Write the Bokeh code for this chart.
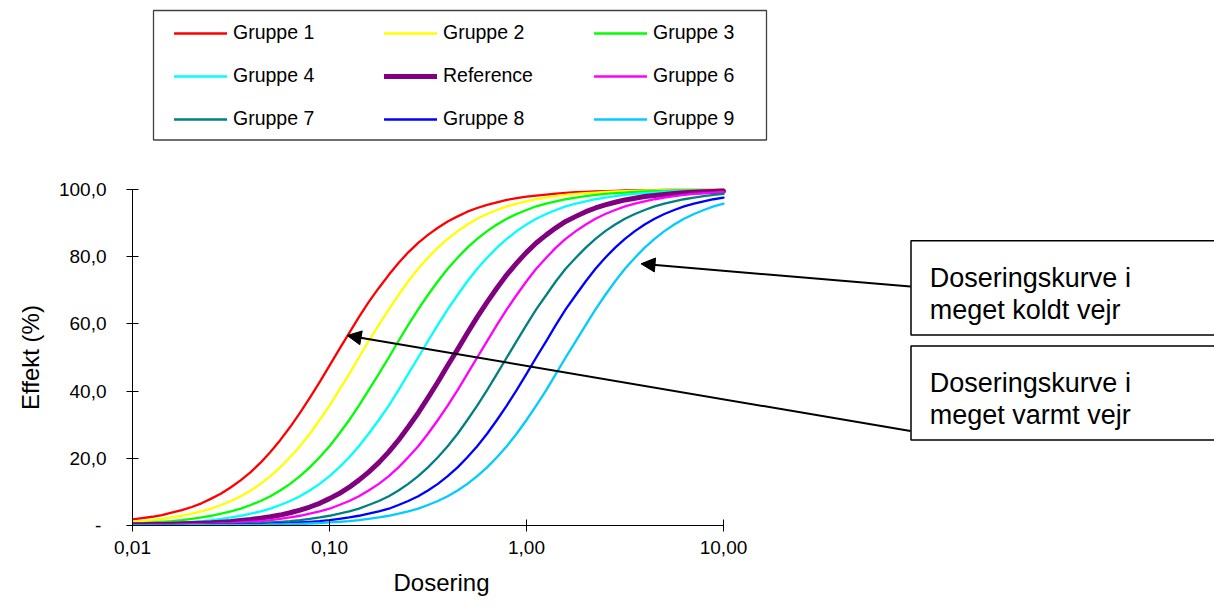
from bokeh.plotting import figure
from bokeh.models import (FixedTicker, CustomJSTickFormatter, Legend, LegendItem,
                          BoxAnnotation, Label, Arrow, NormalHead, Title)
from bokeh.embed import file_html
from bokeh.resources import INLINE

# ---------------- data ----------------
dose = [0.01, 0.0112, 0.0126, 0.0141, 0.0158, 0.0178, 0.02, 0.0224, 0.0251, 0.0282,
        0.0316, 0.0355, 0.0398, 0.0447, 0.0501, 0.0562, 0.0631, 0.0708, 0.0794, 0.0891,
        0.1, 0.112, 0.126, 0.141, 0.158, 0.178, 0.2, 0.224, 0.251, 0.282,
        0.316, 0.355, 0.398, 0.447, 0.501, 0.562, 0.631, 0.708, 0.794, 0.891,
        1.0, 1.12, 1.26, 1.41, 1.58, 1.78, 2.0, 2.24, 2.51, 2.82,
        3.16, 3.55, 3.98, 4.47, 5.01, 5.62, 6.31, 7.08, 7.94, 8.91, 10.0]

gruppe1 = [1.8, 2.2, 2.6, 3.1, 3.8, 4.6, 5.5, 6.6,
           8.0, 9.5, 11.4, 13.5, 15.9, 18.7, 21.9, 25.4, 29.3, 33.5,
           38.0, 42.7, 47.6, 52.4, 57.3, 62.0, 66.5, 70.7, 74.6, 78.1,
           81.3, 84.1, 86.5, 88.6, 90.5, 92.0, 93.4, 94.5, 95.4, 96.2,
           96.9, 97.4, 97.9, 98.2, 98.5, 98.8, 99.0, 99.2, 99.3, 99.4,
           99.5, 99.6, 99.7, 99.7, 99.8, 99.8, 99.9, 99.9, 99.9, 99.9,
           99.9, 99.9, 100.0]
gruppe2 = [1.1, 1.3, 1.6, 2.0, 2.4, 2.9, 3.5, 4.2, 5.0,
           6.1, 7.3, 8.7, 10.4, 12.4, 14.7, 17.3, 20.3, 23.6, 27.3,
           31.4, 35.7, 40.3, 45.1, 50.0, 54.9, 59.7, 64.3, 68.6, 72.7,
           76.4, 79.7, 82.7, 85.3, 87.6, 89.6, 91.3, 92.7, 93.9, 95.0,
           95.8, 96.5, 97.1, 97.6, 98.0, 98.4, 98.7, 98.9, 99.1, 99.3,
           99.4, 99.5, 99.6, 99.7, 99.7, 99.8, 99.8, 99.8, 99.9, 99.9,
           99.9, 99.9]
gruppe3 = [0.6, 0.7,
           0.9, 1.1, 1.3, 1.6, 2.0, 2.4, 2.9, 3.5, 4.2, 5.0,
           6.1, 7.3, 8.7, 10.4, 12.4, 14.7, 17.3, 20.3, 23.6, 27.3,
           31.4, 35.7, 40.3, 45.1, 50.0, 54.9, 59.7, 64.3, 68.6, 72.7,
           76.4, 79.7, 82.7, 85.3, 87.6, 89.6, 91.3, 92.7, 93.9, 95.0,
           95.8, 96.5, 97.1, 97.6, 98.0, 98.4, 98.7, 98.9, 99.1, 99.3,
           99.4, 99.5, 99.6, 99.7, 99.7, 99.8, 99.8, 99.8, 99.9]
gruppe4 = [0.3, 0.4, 0.5, 0.6, 0.7,
           0.9, 1.1, 1.3, 1.6, 2.0, 2.4, 2.9, 3.5, 4.2, 5.0,
           6.1, 7.3, 8.7, 10.4, 12.4, 14.7, 17.3, 20.3, 23.6, 27.3,
           31.4, 35.7, 40.3, 45.1, 50.0, 54.9, 59.7, 64.3, 68.6, 72.7,
           76.4, 79.7, 82.7, 85.3, 87.6, 89.6, 91.3, 92.7, 93.9, 95.0,
           95.8, 96.5, 97.1, 97.6, 98.0, 98.4, 98.7, 98.9, 99.1, 99.3,
           99.4, 99.5, 99.6, 99.7, 99.7, 99.8]
reference = [0.2, 0.2, 0.3, 0.3, 0.4, 0.5, 0.6, 0.7, 0.8, 1.0,
             1.2, 1.5, 1.8, 2.2, 2.6, 3.1, 3.8, 4.6, 5.5, 6.6,
             8.0, 9.5, 11.4, 13.5, 15.9, 18.7, 21.9, 25.4, 29.3, 33.5,
             38.0, 42.7, 47.6, 52.4, 57.3, 62.0, 66.5, 70.7, 74.6, 78.1,
             81.3, 84.1, 86.5, 88.6, 90.5, 92.0, 93.4, 94.5, 95.4, 96.2,
             96.9, 97.4, 97.9, 98.2, 98.5, 98.8, 99.0, 99.2, 99.3, 99.4,
             99.5]
gruppe6 = [0.1,
           0.1, 0.2, 0.2, 0.2, 0.3, 0.3, 0.4, 0.5, 0.6, 0.7,
           0.9, 1.1, 1.3, 1.6, 2.0, 2.4, 2.9, 3.5, 4.2, 5.0,
           6.1, 7.3, 8.7, 10.4, 12.4, 14.7, 17.3, 20.3, 23.6, 27.3,
           31.4, 35.7, 40.3, 45.1, 50.0, 54.9, 59.7, 64.3, 68.6, 72.7,
           76.4, 79.7, 82.7, 85.3, 87.6, 89.6, 91.3, 92.7, 93.9, 95.0,
           95.8, 96.5, 97.1, 97.6, 98.0, 98.4, 98.7, 98.9, 99.1, 99.3]
gruppe7 = [0.1, 0.1, 0.1, 0.1,
           0.1, 0.2, 0.2, 0.2, 0.3, 0.3, 0.4, 0.5, 0.6, 0.7,
           0.9, 1.1, 1.3, 1.6, 2.0, 2.4, 2.9, 3.5, 4.2, 5.0,
           6.1, 7.3, 8.7, 10.4, 12.4, 14.7, 17.3, 20.3, 23.6, 27.3,
           31.4, 35.7, 40.3, 45.1, 50.0, 54.9, 59.7, 64.3, 68.6, 72.7,
           76.4, 79.7, 82.7, 85.3, 87.6, 89.6, 91.3, 92.7, 93.9, 95.0,
           95.8, 96.5, 97.1, 97.6, 98.0, 98.4, 98.7]
gruppe8 = [0.0, 0.0, 0.0, 0.1, 0.1, 0.1, 0.1,
           0.1, 0.2, 0.2, 0.2, 0.3, 0.3, 0.4, 0.5, 0.6, 0.7,
           0.9, 1.1, 1.3, 1.6, 2.0, 2.4, 2.9, 3.5, 4.2, 5.0,
           6.1, 7.3, 8.7, 10.4, 12.4, 14.7, 17.3, 20.3, 23.6, 27.3,
           31.4, 35.7, 40.3, 45.1, 50.0, 54.9, 59.7, 64.3, 68.6, 72.7,
           76.4, 79.7, 82.7, 85.3, 87.6, 89.6, 91.3, 92.7, 93.9, 95.0,
           95.8, 96.5, 97.1, 97.6]
gruppe9 = [0.0, 0.0, 0.0, 0.0, 0.0, 0.0, 0.1, 0.1, 0.1, 0.1,
           0.1, 0.2, 0.2, 0.2, 0.3, 0.3, 0.4, 0.5, 0.6, 0.7,
           0.9, 1.1, 1.3, 1.6, 2.0, 2.4, 2.9, 3.5, 4.2, 5.0,
           6.1, 7.3, 8.7, 10.4, 12.4, 14.7, 17.3, 20.3, 23.6, 27.3,
           31.4, 35.7, 40.3, 45.1, 50.0, 54.9, 59.7, 64.3, 68.6, 72.7,
           76.4, 79.7, 82.7, 85.3, 87.6, 89.6, 91.3, 92.7, 93.9, 95.0,
           95.8]

series_names = ["Gruppe 1", "Gruppe 2", "Gruppe 3", "Gruppe 4", "Reference",
                "Gruppe 6", "Gruppe 7", "Gruppe 8", "Gruppe 9"]
series_values = [gruppe1, gruppe2, gruppe3, gruppe4, reference,
                 gruppe6, gruppe7, gruppe8, gruppe9]
series_colors = ["#FF0000", "#FFFF00", "#00FF00", "#00FFFF", "#800080",
                 "#FF00FF", "#008080", "#0000FF", "#00CCFF"]
series_widths = [2.3, 2.3, 2.3, 2.3, 5.0, 2.3, 2.3, 2.3, 2.3]

x_ticks = [0.01, 0.1, 1, 10]
y_ticks = [0, 20, 40, 60, 80, 100]
x_title = "Dosering"
y_title = "Effekt (%)"

FONT = "Liberation Sans"

# ---------------- layout geometry ----------------
# The data area (0.01..10, 0..100) occupies x 132..723 and y 189..525 of the page.
# The frame is extended up and to the right so that the legend and the
# annotation boxes (which live outside the data area) are drawn inside it.
W, H = 1214, 608
FRAME_LEFT, FRAME_BOTTOM = 132, 525
PX_PER_DECADE = (723 - 132) / 3.0
PX_PER_UNIT = (525 - 189) / 100.0
x_end = 10 ** (-2 + (W - FRAME_LEFT) / PX_PER_DECADE)
y_end = FRAME_BOTTOM / PX_PER_UNIT

p = figure(x_axis_type="log", x_range=(0.01, x_end), y_range=(0, y_end),
           width=W, height=H,
           min_border_left=FRAME_LEFT, min_border_right=0,
           min_border_top=0, min_border_bottom=H - FRAME_BOTTOM,
           output_backend="svg", toolbar_location=None)
p.outline_line_color = None
p.grid.visible = False
p.background_fill_color = "white"
p.border_fill_color = "white"

renderers = []
for vals, col, w in zip(series_values, series_colors, series_widths):
    r = p.line(dose, vals, line_color=col, line_width=w, line_join="round", line_cap="round")
    renderers.append(r)

# axes
for ax in (p.xaxis[0], p.yaxis[0]):
    ax.axis_line_color = "black"
    ax.axis_line_width = 1
    ax.major_tick_line_color = "black"
    ax.major_tick_in = 6
    ax.major_tick_out = 6
    ax.minor_tick_line_color = None
    ax.major_label_text_font = FONT
    ax.major_label_text_font_size = "19px"
    ax.major_label_text_color = "black"

p.xaxis.bounds = (0.01, 10)
p.xaxis.ticker = FixedTicker(ticks=x_ticks)
p.xaxis.formatter = CustomJSTickFormatter(code="return tick.toFixed(2).replace('.', ',');")
p.xaxis.major_label_standoff = 9

p.yaxis.bounds = (0, 100)
p.yaxis.ticker = FixedTicker(ticks=y_ticks)
p.yaxis.formatter = CustomJSTickFormatter(
    code="return tick == 0 ? '-\\u00a0' : tick.toFixed(1).replace('.', ',');")
p.yaxis.major_label_standoff = 20

# axis titles as side-panel titles, positioned along the data area
x_title_start = 393
p.add_layout(Title(text=x_title, align="left", vertical_align="bottom",
                   offset=x_title_start - FRAME_LEFT, standoff=20,
                   text_font=FONT, text_font_size="24px", text_font_style="normal",
                   text_color="black"), "below")
y_title_center = 357
y_title_len = 105
p.add_layout(Title(text=y_title, align="left",
                   offset=FRAME_BOTTOM - (y_title_center + y_title_len / 2.0), standoff=24,
                   text_font=FONT, text_font_size="24px", text_font_style="normal",
                   text_color="black"), "left")

def fx(px):
    return px - FRAME_LEFT
def fy(py):
    return FRAME_BOTTOM - py

# ---------------- legend (3 columns, row-major order) ----------------
p.add_layout(BoxAnnotation(left=fx(153), right=fx(766), top=fy(10), bottom=fy(139.5),
                           left_units="screen", right_units="screen",
                           top_units="screen", bottom_units="screen",
                           fill_color=None, line_color="#404040", line_alpha=1.0,
                           line_width=1.3))

col_x = [174, 384, 594]
for c in range(3):
    items = []
    for rrow in range(3):
        i = rrow * 3 + c
        items.append(LegendItem(label=series_names[i], renderers=[renderers[i]]))
    lg = Legend(items=items, location=(fx(col_x[c]), fy(130.0)),
                orientation="vertical", padding=0, spacing=20,
                glyph_width=53, glyph_height=22, label_height=22,
                label_standoff=6, label_text_font=FONT, label_text_font_size="19.5px",
                label_text_color="black",
                border_line_color=None, background_fill_alpha=0,
                margin=0)
    p.add_layout(lg)

# ---------------- annotation boxes with arrows ----------------
box_specs = [
    (240.3, 334.5, ["Doseringskurve i", "meget koldt vejr"], (910, 286.0), (640.5, 263.3)),
    (345.5, 439.5, ["Doseringskurve i", "meget varmt vejr"], (910, 430.5), (346.7, 335.0)),
]
for top, bottom, lines, start, end in box_specs:
    p.add_layout(Arrow(x_start=fx(start[0]), y_start=fy(start[1]),
                       x_end=fx(end[0]), y_end=fy(end[1]),
                       start_units="screen", end_units="screen",
                       line_color="black", line_width=2,
                       end=NormalHead(size=14, fill_color="black", line_color="black",
                                      line_width=1)))
    p.add_layout(BoxAnnotation(left=fx(910.5), right=fx(1230), top=fy(top), bottom=fy(bottom),
                               left_units="screen", right_units="screen",
                               top_units="screen", bottom_units="screen",
                               fill_color="white", fill_alpha=1.0,
                               line_color="black", line_alpha=1.0, line_width=1.5))
    for k, txt in enumerate(lines):
        base = top + 36.7 + k * 32.3
        p.add_layout(Label(x=fx(929.3), y=fy(base), x_units="screen", y_units="screen",
                           text=txt, text_font=FONT, text_font_size="27px",
                           text_color="black", text_baseline="alphabetic",
                           text_align="left"))

open("out.html", "w").write(file_html(p, INLINE))
